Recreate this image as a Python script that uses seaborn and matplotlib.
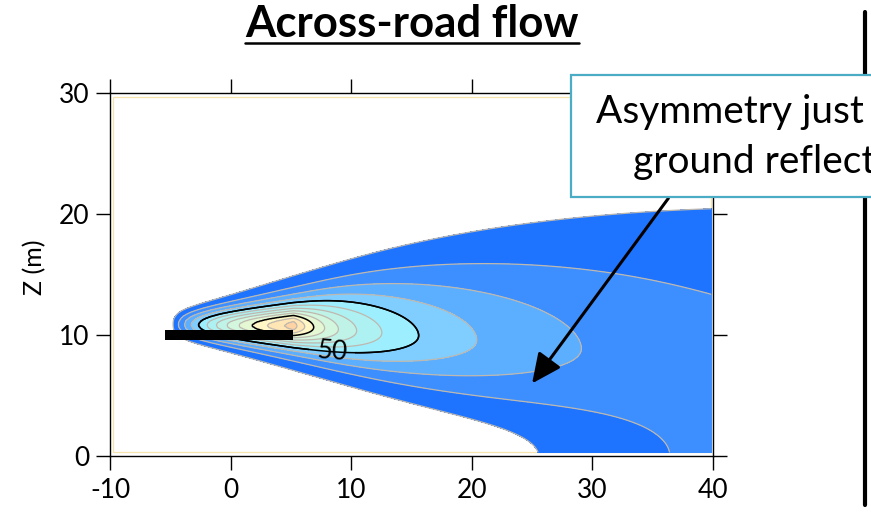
import numpy as np
import matplotlib
matplotlib.use("Agg")
import matplotlib.pyplot as plt
import seaborn as sns
from matplotlib.patches import Rectangle
from matplotlib.lines import Line2D

# ---------------- data ----------------
road_start, road_end = -5.45, 5.2        # elevated road deck extent (m)
road_bottom, road_top = 9.6, 10.4        # deck thickness (m)
source_start, source_end = -5.2, 5.2     # emitting width (m)
source_height = 10.9                     # release height (m)
emission_rate = 45.0                     # per metre of road width
sigma_init = 0.78                        # initial vertical spread (m)
sigma_up_coef = 0.465
sigma_down_coef = 0.325
sigma_exp = 0.82
centre_descent = 0.07                    # plume-centre drop per metre
grid_x_range = (-9.75, 39.85)
grid_z_range = (0.3, 29.7)

levels = [10, 20, 30, 40, 50, 60, 70, 80, 90, 100, 110, 120]
fill_colors = ["#1F74FF", "#3D8EFF", "#5CAEFF", "#80CEFF", "#9DEEFE",
               "#AEF1F3", "#C0F3E8", "#D2F6DE", "#E4F8D4", "#FFF7C6",
               "#FFE6B4", "#FFD3A4"]
highlight_levels = [50, 100]
label_level = 50
label_pos = (8.4, 8.6)

xticks = [-10, 0, 10, 20, 30, 40]
yticks = [0, 10, 20, 30]
title = "Across-road flow"
ylabel = "Z (m)"
note_lines = ["Asymmetry just", "ground reflection"]
arrow_tip = (25.0, 6.0)
arrow_tail = (36.3, 21.3)

# ---------------- concentration field (plume model) ----------------
x = np.linspace(*grid_x_range, 640)
z = np.linspace(*grid_z_range, 380)
X, Z = np.meshgrid(x, z)
xs = np.linspace(source_start, source_end, 320)
dxs = xs[1] - xs[0]
C = np.zeros_like(X)
for s in xs:
    d = X - s
    m = d > 0
    dd = np.where(m, d, 0.0)
    grow = dd ** sigma_exp
    su = np.sqrt(sigma_init ** 2 + (sigma_up_coef * grow) ** 2)
    sd = np.sqrt(sigma_init ** 2 + (sigma_down_coef * grow) ** 2)
    h = source_height - centre_descent * dd
    sg = np.where(Z >= h, su, sd)
    g = np.exp(-(Z - h) ** 2 / (2 * sg ** 2)) + np.exp(-(Z + h) ** 2 / (2 * sd ** 2))
    C += np.where(m, emission_rate * dxs * 2 / (np.sqrt(2 * np.pi) * (su + sd)) * g, 0.0)

# ---------------- style ----------------
sns.set_theme(style="ticks")
plt.rcParams["font.family"] = ["Lato", "DejaVu Sans"]

W, H = 871, 520
fig = plt.figure(figsize=(W / 100, H / 100), dpi=100)
ax = fig.add_axes([110 / W, 1 - 456 / H, (713 - 110) / W, (456 - 93) / H])

fill_levels = levels + [max(C.max() * 1.01, levels[-1] + 1)]
ax.add_patch(Rectangle((grid_x_range[0], grid_z_range[0]),
                       grid_x_range[1] - grid_x_range[0],
                       grid_z_range[1] - grid_z_range[0],
                       fill=False, edgecolor="#F6E4AE", lw=0.9, zorder=0.5))
ax.contourf(X, Z, C, levels=fill_levels, colors=fill_colors, zorder=1)
line_cols = ["black" if l in highlight_levels else "#BDB8B0" for l in levels]
line_w = [1.1 if l in highlight_levels else 0.9 for l in levels]
ax.contour(X, Z, C, levels=levels, colors=line_cols, linewidths=line_w, zorder=2)
cs50 = ax.contour(X, Z, C, levels=[label_level], colors="black", linewidths=1.1, zorder=2.1)
ax.clabel(cs50, manual=[label_pos], fmt="%d", fontsize=19, inline=True, inline_spacing=8)

ax.add_patch(Rectangle((road_start, road_bottom), road_end - road_start,
                       road_top - road_bottom, facecolor="black", edgecolor="none", zorder=3))

ax.set_xlim(-10, 40)
ax.set_ylim(0, 30)
ax.set_xticks(xticks)
ax.set_yticks(yticks)
ax.set_xticklabels([str(t) for t in xticks])
ax.set_yticklabels([str(t) for t in yticks])
for sp in ax.spines.values():
    sp.set_visible(True)
    sp.set_color("black")
    sp.set_linewidth(1.0)
ax.tick_params(which="both", direction="out", length=10, width=1.0, color="black",
               top=True, right=True, labeltop=False, labelright=False,
               labelsize=19, labelcolor="black")
ax.tick_params(axis="x", pad=6)
ax.tick_params(axis="y", pad=5)
ax.set_ylabel(ylabel, fontsize=18, color="black")
ax.yaxis.set_label_coords((46 - 110) / (713 - 110), 0.52)
ax.set_facecolor("white")

ax.annotate("", xy=arrow_tip, xytext=arrow_tail,
            arrowprops=dict(arrowstyle="-|>,head_length=0.9,head_width=0.42",
                            color="black", lw=2.2, shrinkA=0, shrinkB=0,
                            mutation_scale=20),
            annotation_clip=False, zorder=6)

# title with underline
t = fig.text(412 / W, 1 - 37 / H, title, ha="center", va="baseline",
             fontsize=31.5, fontweight="bold", color="black")

# vertical divider at the right
fig.add_artist(Line2D([865 / W, 865 / W], [1 - 12 / H, 1 - 505 / H],
                      transform=fig.transFigure, color="black", lw=3.0, zorder=9))

# annotation box
fig.add_artist(Rectangle((571 / W, 1 - 197 / H), 0.5, (197 - 75) / H,
                         transform=fig.transFigure, facecolor="white",
                         edgecolor="#4BACC6", lw=1.6, zorder=10))
fig.text(596 / W, 1 - 123 / H, note_lines[0], ha="left", va="baseline",
         fontsize=28, color="black", zorder=11)
fig.text(633 / W, 1 - 173 / H, note_lines[1], ha="left", va="baseline",
         fontsize=28, color="black", zorder=11)

fig.canvas.draw()
bb = t.get_window_extent()
uy = 1 - 43 / H
fig.add_artist(Line2D([bb.x0 / W, bb.x1 / W], [uy, uy], transform=fig.transFigure,
                      color="black", lw=1.8))

fig.savefig("out.png", dpi=100)
